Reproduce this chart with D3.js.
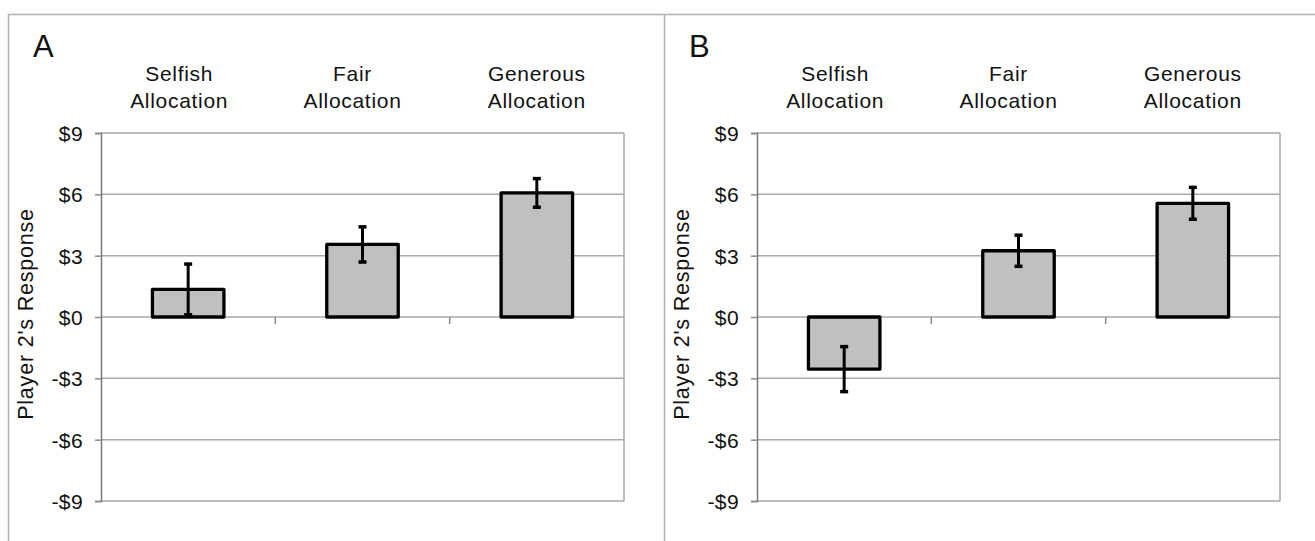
<!DOCTYPE html>
<html>
<head>
<meta charset="utf-8">
<script src="https://cdn.jsdelivr.net/npm/d3@7"></script>
<style>
  html, body { margin: 0; padding: 0; background: #fff; }
  svg { display: block; font-family: "Liberation Sans", Arial, sans-serif; }
</style>
</head>
<body>
<svg id="chart" width="1315" height="541"></svg>
<script>
// ---- data ----
const categories = ["Selfish Allocation", "Fair Allocation", "Generous Allocation"];
const panelLetters = ["A", "B"];
const panelA_means = [1.35, 3.55, 6.07];
const panelA_errors = [1.24, 0.86, 0.70];
const panelB_means = [-2.55, 3.24, 5.56];
const panelB_errors = [1.10, 0.76, 0.78];
const yTickValues = [-9, -6, -3, 0, 3, 6, 9];
const yTickLabels = ["-$9", "-$6", "-$3", "$0", "$3", "$6", "$9"];
const yAxisTitle = "Player 2's Response";

// ---- layout ----
const W = 1315, H = 541;
const panelOffset = 656;
const plotLeft = 101, plotRight = 624, plotTop = 133, plotBottom = 501;
const labelNudge = [-9, -10, 0];
const gridColor = "#a9a9a9";
const textColor = "#111";

const svg = d3.select("#chart");

// outer frame
svg.append("line").attr("x1", 8).attr("x2", W).attr("y1", 14.5).attr("y2", 14.5)
  .attr("stroke", "#b0b0b0").attr("stroke-width", 1.5);
svg.append("line").attr("x1", 8.5).attr("x2", 8.5).attr("y1", 14).attr("y2", H)
  .attr("stroke", "#b0b0b0").attr("stroke-width", 1.5);
svg.append("line").attr("x1", 664.5).attr("x2", 664.5).attr("y1", 14).attr("y2", H)
  .attr("stroke", "#b0b0b0").attr("stroke-width", 1.5);

const x = d3.scaleBand().domain(categories).range([plotLeft, plotRight])
  .paddingInner(0.59).paddingOuter(0.295);
const y = d3.scaleLinear().domain([-9, 9]).range([plotBottom, plotTop]);

function drawPanel(offset, letter, means, errors) {
  const g = svg.append("g").attr("transform", `translate(${offset},0)`);

  // gridlines
  g.selectAll(".grid").data(yTickValues).enter().append("line")
    .attr("x1", plotLeft).attr("x2", plotRight)
    .attr("y1", d => y(d)).attr("y2", d => y(d))
    .attr("stroke", gridColor).attr("stroke-width", 1.5);
  // right border
  g.append("line").attr("x1", plotRight).attr("x2", plotRight)
    .attr("y1", y(9)).attr("y2", y(-9)).attr("stroke", gridColor).attr("stroke-width", 1.5);

  // y axis
  const yAxis = d3.axisLeft(y).tickValues(yTickValues)
    .tickFormat((d, i) => yTickLabels[i]).tickSize(6).tickPadding(12);
  const ya = g.append("g").attr("transform", `translate(${plotLeft},0)`).call(yAxis);
  ya.select(".domain").attr("stroke", "#7a7a7a").attr("stroke-width", 1.5);
  ya.selectAll(".tick line").attr("stroke", "#8a8a8a").attr("stroke-width", 1.5);
  ya.selectAll(".tick text").attr("font-size", 21).attr("letter-spacing", 0.4).attr("fill", textColor)
    .attr("font-family", "Liberation Sans, Arial, sans-serif").attr("dy", "0.36em");

  // x axis ticks on zero line (category boundaries)
  const boundaries = categories.slice(1).map(c => x(c) - x.step() * x.paddingInner() / 2);
  g.selectAll(".xtick").data(boundaries).enter().append("line")
    .attr("x1", d => d).attr("x2", d => d)
    .attr("y1", y(0)).attr("y2", y(0) + 7)
    .attr("stroke", "#8a8a8a").attr("stroke-width", 1.5);

  // bars
  g.selectAll(".bar").data(means).enter().append("rect")
    .attr("x", (d, i) => x(categories[i]))
    .attr("width", x.bandwidth())
    .attr("y", d => y(Math.max(0, d)))
    .attr("height", d => Math.abs(y(d) - y(0)))
    .attr("fill", "#c0c0c0").attr("stroke", "#000").attr("stroke-width", 3.3)
    .attr("stroke-linejoin", "round");

  // error bars
  const eb = g.selectAll(".err").data(means).enter().append("g");
  eb.append("line")
    .attr("x1", (d, i) => x(categories[i]) + x.bandwidth() / 2)
    .attr("x2", (d, i) => x(categories[i]) + x.bandwidth() / 2)
    .attr("y1", (d, i) => y(d + errors[i])).attr("y2", (d, i) => y(d - errors[i]))
    .attr("stroke", "#000").attr("stroke-width", 3);
  [1, -1].forEach(s => {
    eb.append("line")
      .attr("x1", (d, i) => x(categories[i]) + x.bandwidth() / 2 - 4)
      .attr("x2", (d, i) => x(categories[i]) + x.bandwidth() / 2 + 4)
      .attr("y1", (d, i) => y(d + s * errors[i])).attr("y2", (d, i) => y(d + s * errors[i]))
      .attr("stroke", "#000").attr("stroke-width", 3.5);
  });

  // category labels
  categories.forEach((c, i) => {
    const words = c.split(" ");
    const t = g.append("text")
      .attr("x", x(c) + x.bandwidth() / 2 + labelNudge[i])
      .attr("text-anchor", "middle").attr("font-size", 21)
      .attr("letter-spacing", 0.7).attr("fill", textColor);
    words.forEach((w, j) => {
      t.append("tspan").attr("x", x(c) + x.bandwidth() / 2 + labelNudge[i])
        .attr("y", 81 + j * 27).text(w);
    });
  });

  // y axis title
  g.append("text")
    .attr("transform", `translate(33, ${(y(9) + y(-9)) / 2 - 3}) rotate(-90)`)
    .attr("text-anchor", "middle").attr("font-size", 21.5).attr("letter-spacing", 0.8)
    .attr("fill", textColor).text(yAxisTitle);

  // panel letter
  g.append("text").attr("x", 33).attr("y", 57)
    .attr("font-size", 31).attr("fill", textColor).text(letter);
}

drawPanel(0, panelLetters[0], panelA_means, panelA_errors);
drawPanel(panelOffset, panelLetters[1], panelB_means, panelB_errors);
</script>
</body>
</html>
